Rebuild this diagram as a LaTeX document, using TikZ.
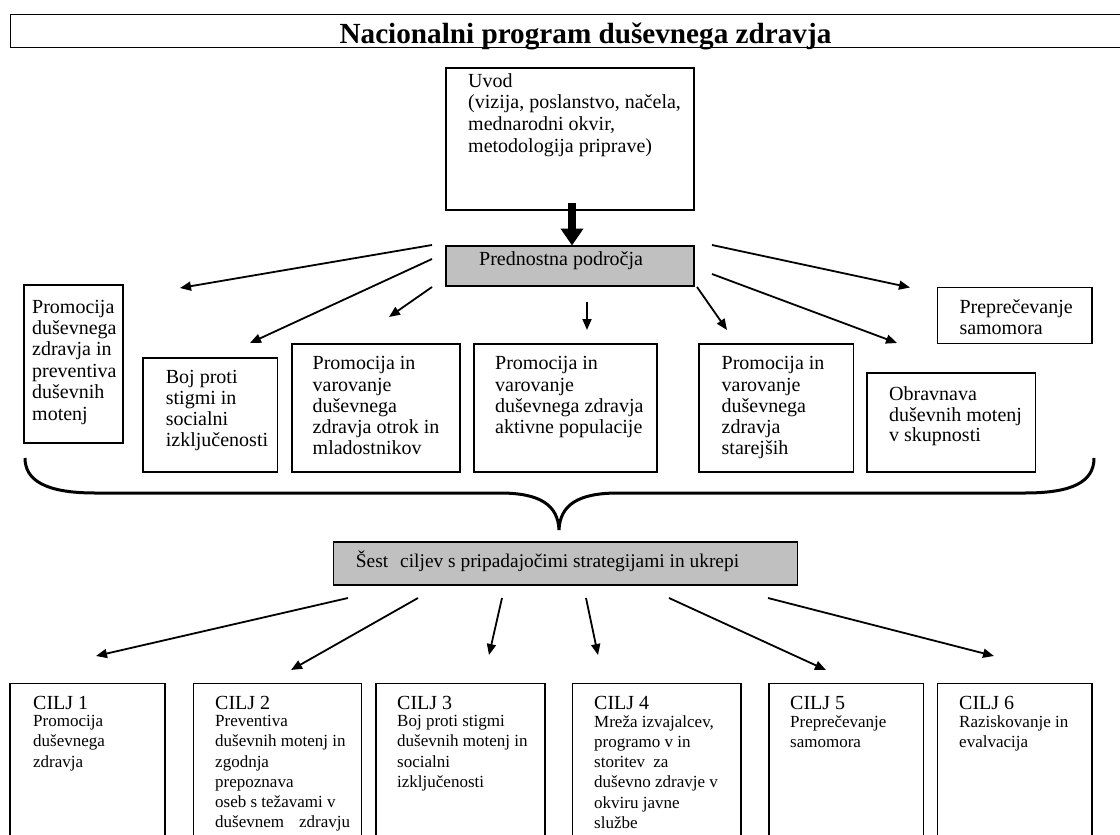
\documentclass[tikz,border=0pt]{standalone}
\usepackage{fontspec}
\setmainfont{Liberation Serif}
\usetikzlibrary{arrows.meta}
\definecolor{boxgray}{RGB}{192,192,192}
\begin{document}
\begin{tikzpicture}[x=1pt,y=-1pt,
  box/.style={draw, line width=1.1pt, anchor=north west, inner sep=0pt, outer sep=0pt},
  graybox/.style={box, fill=boxgray},
  txt/.style={anchor=north west, inner sep=0pt, align=left, font=\fontsize{20}{#1}\selectfont},
  txt/.default=21.5,
  head/.style={anchor=north west, inner sep=0pt, align=left, font=\fontsize{20}{20}\selectfont},
  body/.style={anchor=north west, inner sep=0pt, align=left, font=\fontsize{17}{20.2}\selectfont},
  arr/.style={line width=1.8pt, -{Triangle[length=11pt,width=9pt]}},
]
\useasboundingbox (0,0) rectangle (1120,835);

% title
\draw[line width=1pt] (1125,14) -- (10,14) -- (10,47) -- (1125,47);
\node[anchor=base, inner sep=0pt, font=\fontsize{29.2}{31}\selectfont\bfseries] (title) at (585.5,43) {Nacionalni program duševnega zdravja};

% Uvod
\node[box, minimum width=248pt, minimum height=142pt] (uvod) at (446,68) {};
\node[txt=21.7] (uvodt) at (468,73) {Uvod\\(vizija, poslanstvo, načela,\\mednarodni okvir,\\metodologija priprave)};

% Prednostna podrocja
\node[graybox, minimum width=248pt, minimum height=40pt] (pred) at (446,246) {};
\node[txt] (predt) at (479,251) {Prednostna področja};

\coordinate (uvodbot) at (572,203);
\coordinate (predtop) at (572,245.5);
\draw[line width=8pt, -{Triangle[length=17pt,width=22pt]}] (uvodbot) -- (predtop);

% priority boxes
\node[box, line width=2pt, minimum width=98.5pt, minimum height=158pt] (bA) at (24,285) {};
\node[txt=21.4] (tA) at (32,299.6) {Promocija\\duševnega\\zdravja in\\preventiva\\duševnih\\motenj};

\node[box, minimum width=134.5pt, minimum height=114pt] (bB) at (143,358) {};
\node[txt=21.2] (tB) at (165.7,369.6) {Boj proti\\stigmi in\\socialni\\izključenosti};

\node[box, minimum width=168pt, minimum height=128pt] (bC) at (292,344) {};
\node[txt=21.3] (tC) at (312.5,356.3) {Promocija in\\varovanje\\duševnega\\zdravja otrok in\\mladostnikov};

\node[box, minimum width=183pt, minimum height=128pt] (bD) at (474,344) {};
\node[txt=21.3] (tD) at (495,356.3) {Promocija in\\varovanje\\duševnega zdravja\\aktivne populacije};

\node[box, minimum width=154.5pt, minimum height=128pt] (bE) at (699,344) {};
\node[txt=21.3] (tE) at (721.5,356.3) {Promocija in\\varovanje\\duševnega\\zdravja\\starejših};

\node[box, minimum width=168.5pt, minimum height=99pt] (bF) at (867,373) {};
\node[txt=20.8] (tF) at (889,386.3) {Obravnava\\duševnih motenj\\v skupnosti};

\node[box, minimum width=154.5pt, minimum height=56pt] (bG) at (937.5,287.5) {};
\node[txt=20.3] (tG) at (959.3,299.6) {Preprečevanje\\samomora};

% top arrows
\coordinate (s1) at (432,245); \coordinate (e1) at (180,288);
\coordinate (s2) at (432,259); \coordinate (e2) at (250,343);
\coordinate (s3) at (432,287); \coordinate (e3) at (389,317);
\coordinate (s4) at (587,302); \coordinate (e4) at (587,330);
\coordinate (s5) at (697,287); \coordinate (e5) at (727,330);
\coordinate (s6) at (712,274); \coordinate (e6) at (897,343);
\coordinate (s7) at (712,245); \coordinate (e7) at (910,287.5);
\foreach \i in {1,...,7} \draw[arr] (s\i) -- (e\i);

% brace
\draw[line width=3pt] (25,458) .. controls (25,480) and (45,493) .. (95,493)
  -- (500,493) .. controls (540,493) and (558,505) .. (559,530)
  .. controls (560,505) and (578,493) .. (618,493)
  -- (1025,493) .. controls (1072,493) and (1094,482) .. (1094,458);

% Sest
\node[graybox, minimum width=464pt, minimum height=43pt] (sest) at (333.5,542) {};
\node[anchor=north west, inner sep=0pt, font=\fontsize{19.4}{21}\selectfont] (sestt) at (355.7,551) {Šest\hspace{12pt}ciljev s pripadajočimi strategijami in ukrepi};

% bottom arrows
\coordinate (u1) at (348,598); \coordinate (v1) at (96,656);
\coordinate (u2) at (418,598); \coordinate (v2) at (291,670);
\coordinate (u3) at (502,598); \coordinate (v3) at (489,655);
\coordinate (u4) at (586,598); \coordinate (v4) at (598,655);
\coordinate (u5) at (669,598); \coordinate (v5) at (826,670);
\coordinate (u6) at (768,598); \coordinate (v6) at (994,656);
\foreach \i in {1,...,6} \draw[arr] (u\i) -- (v\i);

% CILJ boxes
\node[box, minimum width=155pt, minimum height=170pt] (c1) at (10,683.3) {};
\node[box, minimum width=168.3pt, minimum height=170pt] (c2) at (193.3,683.3) {};
\node[box, minimum width=169pt, minimum height=170pt] (c3) at (376,683.3) {};
\node[box, minimum width=168.5pt, minimum height=170pt] (c4) at (572.5,683.3) {};
\node[box, minimum width=154.6pt, minimum height=170pt] (c5) at (769,683.3) {};
\node[box, minimum width=154.5pt, minimum height=170pt] (c6) at (937.5,683.3) {};

\node[head] (h1) at (33,695.8) {CILJ 1};
\node[head] (h2) at (215,695.8) {CILJ 2};
\node[head] (h3) at (397,695.8) {CILJ 3};
\node[head] (h4) at (594,695.8) {CILJ 4};
\node[head] (h5) at (790,695.8) {CILJ 5};
\node[head] (h6) at (959,695.8) {CILJ 6};

\node[body] (g1) at (33,715.3) {Promocija\\duševnega\\zdravja};
\node[body] (g2) at (215,715.3) {Preventiva\\duševnih motenj in\\zgodnja\\prepoznava\\oseb s težavami v\\duševnem\hspace{15pt}zdravju};
\node[body] (g3) at (397,715.3) {Boj proti stigmi\\duševnih motenj in\\socialni\\izključenosti};
\node[body] (g4) at (594,715.3) {Mreža izvajalcev,\\programo v in\\storitev\hspace{4pt} za\\duševno zdravje v\\okviru javne\\službe};
\node[body] (g5) at (790,715.3) {Preprečevanje\\samomora};
\node[body] (g6) at (959,715.3) {Raziskovanje in\\evalvacija};
\end{tikzpicture}
\end{document}
